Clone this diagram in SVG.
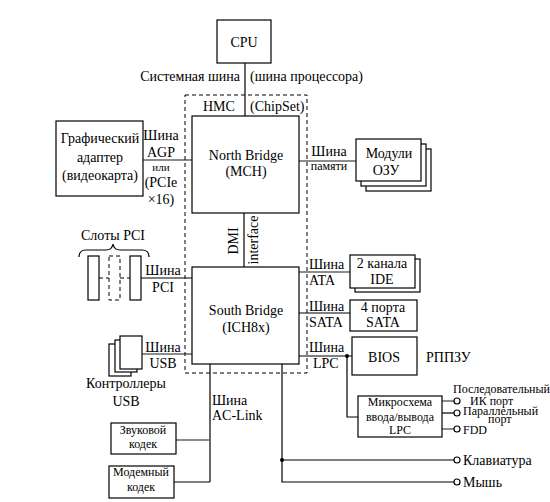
<svg xmlns="http://www.w3.org/2000/svg" width="550" height="502" viewBox="0 0 550 502">
<style>
text{font-family:"Liberation Serif","Times New Roman",serif;font-size:14px;fill:#000}
.s{font-size:12px}
.xs{font-size:11px}
.m{text-anchor:middle}
.e{text-anchor:end}
.box{fill:#fff;stroke:#000;stroke-width:1.2}
.ln{fill:none;stroke:#000;stroke-width:1.2}
.g{fill:none;stroke:#666;stroke-width:1.5}
.dash{fill:none;stroke:#000;stroke-width:1;stroke-dasharray:4,3}
.c{fill:#fff;stroke:#000;stroke-width:1.2}
</style>
<rect width="550" height="502" fill="#fff"/>
<g id="connectors">
<line class="ln" x1="245" y1="63" x2="245" y2="116"/>
<line class="g" x1="143" y1="160" x2="192" y2="160"/>
<line class="g" x1="299" y1="161" x2="356" y2="161"/>
<line class="ln" x1="244" y1="213" x2="244" y2="267"/>
<line class="ln" x1="141" y1="278" x2="192" y2="278"/>
<line class="dash" x1="99" y1="278" x2="109" y2="278"/>
<line class="dash" x1="120" y1="278" x2="130" y2="278"/>
<line class="g" x1="299" y1="272" x2="350" y2="272"/>
<line class="ln" x1="299" y1="313" x2="350" y2="313"/>
<line class="ln" x1="299" y1="356" x2="352" y2="356"/>
<circle cx="347" cy="356" r="2" fill="#000"/>
<polyline class="ln" points="347,356 347,417 358,417"/>
<line class="g" x1="142" y1="354" x2="192" y2="354"/>
<line class="g" x1="442" y1="401" x2="454" y2="401"/>
<line class="ln" x1="442" y1="413" x2="454" y2="413"/>
<line class="g" x1="442" y1="429" x2="454" y2="429"/>
<circle class="c" cx="457" cy="401" r="3"/>
<circle class="c" cx="457" cy="413" r="3"/>
<circle class="c" cx="457" cy="429" r="3"/>
<polyline class="ln" points="282,364 282,482 454,482"/>
<line class="ln" x1="282" y1="460" x2="454" y2="460"/>
<circle cx="282" cy="460" r="2" fill="#000"/>
<circle class="c" cx="457" cy="460" r="3"/>
<circle class="c" cx="457" cy="482" r="3"/>
<line class="ln" x1="210" y1="364" x2="210" y2="482"/>
<line class="g" x1="176" y1="440" x2="210" y2="440"/>
<line class="ln" x1="174" y1="482" x2="210" y2="482"/>
</g>
<g id="chipset">
<rect class="dash" x="185" y="95" width="122" height="278"/>
<text x="203" y="111">HMC</text>
<text x="250" y="111">(ChipSet)</text>
</g>
<g id="cpu">
<rect class="box" x="217" y="20" width="54" height="43"/>
<text class="m" x="244" y="47">CPU</text>
<text class="e" x="240" y="81">Системная  шина</text>
<text x="250" y="81">(шина процессора)</text>
</g>
<g id="north-bridge">
<rect class="box" x="192" y="116" width="107" height="97"/>
<text class="m" x="246" y="160">North Bridge</text>
<text class="m" x="246" y="176">(MCH)</text>
</g>
<g id="dmi">
<text class="m" transform="translate(238,241) rotate(-90)">DMI</text>
<text class="m" transform="translate(258,240) rotate(-90)">interface</text>
</g>
<g id="graphics">
<rect class="box" x="56" y="121" width="87" height="75"/>
<text class="m" x="100" y="143">Графический</text>
<text class="m" x="100" y="162">адаптер</text>
<text class="m" x="100" y="180">(видеокарта)</text>
<text class="m" x="161" y="140">Шина</text>
<text class="m" x="161" y="157">AGP</text>
<text class="m xs" x="161" y="171">или</text>
<text class="m" x="161" y="187">(PCIe</text>
<text class="m" x="161" y="204">×16)</text>
</g>
<g id="memory">
<rect class="box" x="366" y="149" width="65" height="42"/>
<rect class="box" x="361" y="144" width="65" height="42"/>
<rect class="box" x="356" y="139" width="65" height="42"/>
<text class="m" x="389" y="158">Модули</text>
<text class="m" x="386" y="175">ОЗУ</text>
<text class="m" x="329" y="156">Шина</text>
<text class="m s" x="329" y="170">памяти</text>
</g>
<g id="pci-slots">
<text class="m" x="113" y="240">Слоты PCI</text>
<path class="ln" d="M79,257 Q79,250 86,250 L106,250 Q112,250 113,244 Q114,250 120,250 L142,250 Q149,250 149,257" stroke-width="1"/>
<rect class="box" x="88" y="256" width="11" height="44"/>
<rect class="dash" x="109" y="256" width="11" height="44"/>
<rect class="box" x="130" y="256" width="11" height="44"/>
<text class="m" x="163" y="275">Шина</text>
<text class="m" x="163" y="292">PCI</text>
</g>
<g id="south-bridge">
<rect class="box" x="192" y="267" width="107" height="97"/>
<text class="m" x="246" y="315">South Bridge</text>
<text class="m" x="246" y="332">(ICH8x)</text>
</g>
<g id="ide">
<rect class="box" x="355" y="259" width="65" height="33"/>
<rect class="box" x="350" y="255" width="65" height="33"/>
<text class="m" x="382" y="268">2 канала</text>
<text class="m" x="382" y="284">IDE</text>
<text x="309" y="269">Шина</text>
<text x="309" y="285">ATA</text>
</g>
<g id="sata">
<rect class="box" x="350" y="300" width="67" height="31"/>
<text class="m" x="383" y="312">4 порта</text>
<text class="m" x="383" y="327">SATA</text>
<text x="309" y="311">Шина</text>
<text x="309" y="327">SATA</text>
</g>
<g id="bios">
<rect class="box" x="352" y="337" width="65" height="38"/>
<text class="m" x="384" y="362">BIOS</text>
<text x="426" y="362">РППЗУ</text>
<text x="309" y="352">Шина</text>
<text x="313" y="368">LPC</text>
</g>
<g id="superio">
<rect class="box" x="358" y="396" width="84" height="41"/>
<text class="m s" x="400" y="406">Микросхема</text>
<text class="m s" x="400" y="421">ввода/вывода</text>
<text class="m s" x="400" y="434">LPC</text>
<text class="s" x="453" y="393">Последовательный</text>
<text class="s" x="470" y="405">ИК порт</text>
<text class="s" x="463" y="415">Параллельный</text>
<text class="s" x="488" y="423">порт</text>
<text class="s" x="463" y="434">FDD</text>
</g>
<g id="usb">
<rect class="box" x="109" y="344" width="22" height="32"/>
<rect class="box" x="115" y="340" width="22" height="32"/>
<rect class="box" x="120" y="336" width="22" height="33"/>
<text class="m" x="163" y="352">Шина</text>
<text class="m" x="163" y="368">USB</text>
<text class="m" x="126" y="388">Контроллеры</text>
<text class="m" x="126" y="406">USB</text>
</g>
<g id="ac-link">
<text x="212" y="405">Шина</text>
<text x="212" y="420">AC-Link</text>
</g>
<g id="sound-codec">
<rect class="box" x="111" y="423" width="65" height="31"/>
<text class="m s" x="143" y="434">Звуковой</text>
<text class="m s" x="143" y="448">кодек</text>
</g>
<g id="modem-codec">
<rect class="box" x="109" y="466" width="65" height="32"/>
<text class="m s" x="141" y="476">Модемный</text>
<text class="m s" x="141" y="491">кодек</text>
</g>
<g id="keyboard"><text x="463" y="465">Клавиатура</text></g>
<g id="mouse"><text x="463" y="487">Мышь</text></g>
</svg>
